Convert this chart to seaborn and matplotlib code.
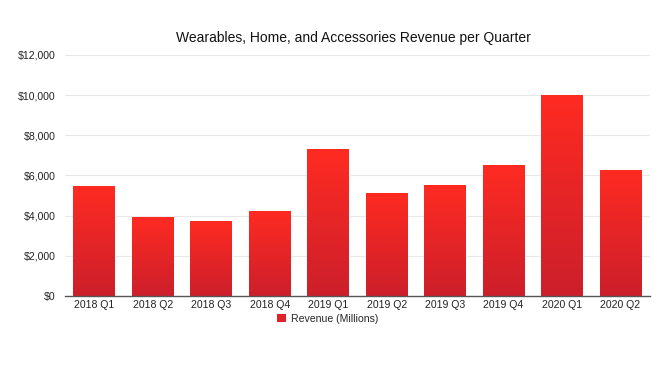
import numpy as np
import pandas as pd
import matplotlib
matplotlib.use("Agg")
import matplotlib.pyplot as plt
import seaborn as sns
from matplotlib.colors import LinearSegmentedColormap
from matplotlib.patches import Patch

quarters = ["2018 Q1", "2018 Q2", "2018 Q3", "2018 Q4", "2019 Q1",
            "2019 Q2", "2019 Q3", "2019 Q4", "2020 Q1", "2020 Q2"]
revenue = [5489, 3954, 3740, 4234, 7308, 5129, 5525, 6520, 10010, 6284]
yticks = [0, 2000, 4000, 6000, 8000, 10000, 12000]
ytick_labels = ["$0", "$2,000", "$4,000", "$6,000", "$8,000", "$10,000", "$12,000"]

sns.set_theme(style="white")
plt.rcParams['font.family'] = ['Liberation Sans', 'DejaVu Sans']

df = pd.DataFrame({"Quarter": quarters, "Revenue": revenue})

fig = plt.figure(figsize=(6.6, 3.68), dpi=100)
ax = fig.add_axes([0.0985, 0.1957, 0.886, 0.655])

sns.barplot(data=df, x="Quarter", y="Revenue", color="#e52228", width=0.71,
            ax=ax, saturation=1, zorder=2)

cmap = LinearSegmentedColormap.from_list("g", ["#cc1f2b", "#ff2b22"])
grad = np.linspace(0, 1, 256).reshape(-1, 1)
for p in ax.patches:
    x0, y0 = p.get_x(), p.get_y()
    w, h = p.get_width(), p.get_height()
    im = ax.imshow(grad, cmap=cmap, aspect="auto", origin="lower",
                   extent=[x0, x0 + w, y0, y0 + h], zorder=3)
    im.set_clip_path(p)
    p.set_facecolor("none")

ax.set_xlim(-0.5, len(quarters) - 0.5)
ax.set_ylim(0, 12000)
ax.set_yticks(yticks)
ax.set_yticklabels(ytick_labels)
ax.yaxis.grid(True, color="#e8e8e8", linewidth=0.8, zorder=0)
ax.set_axisbelow(True)
for s in ["left", "right", "top"]:
    ax.spines[s].set_visible(False)
ax.spines["bottom"].set_color("#555555")
ax.spines["bottom"].set_linewidth(1.0)
ax.spines["bottom"].set_zorder(5)
ax.tick_params(axis="both", length=0, labelsize=7.6, colors="#222222")
ax.tick_params(axis="x", pad=3)
ax.tick_params(axis="y", pad=7)
ax.set_xlabel("")
ax.set_ylabel("")

fig.text(0.536, 0.897, "Wearables, Home, and Accessories Revenue per Quarter",
         ha="center", va="center", fontsize=10, color="#111111")

handles = [Patch(facecolor="#e02229", edgecolor="none", label="Revenue (Millions)")]
fig.legend(handles=handles, loc="center", bbox_to_anchor=(0.497, 0.134),
           frameon=False, fontsize=7.6, handlelength=0.8, handleheight=0.8,
           handletextpad=0.5, borderpad=0.1)

fig.savefig("out.png", dpi=100)
